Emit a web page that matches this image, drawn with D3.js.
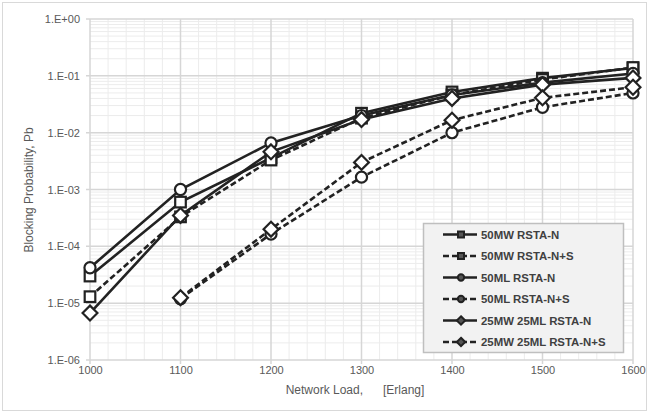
<!DOCTYPE html>
<html>
<head>
<meta charset="utf-8">
<script src="https://cdn.jsdelivr.net/npm/d3@7"></script>
<style>
  body { margin: 0; background: #fff; }
  svg { display: block; font-family: "Liberation Sans", Arial, sans-serif; }
</style>
</head>
<body>
<svg width="650" height="415"></svg>
<script>
// network load values on the x axis
const loads = [1000, 1100, 1200, 1300, 1400, 1500, 1600];

// blocking probability per series (null = no point)
const mw50N = [3.0e-5, 6.0e-4, 3.6e-3, 2.2e-2, 5.2e-2, 9.1e-2, 1.37e-1];
const mw50NS = [1.3e-5, 3.3e-4, 3.3e-3, 1.8e-2, 4.6e-2, 8.6e-2, 1.4e-1];
const ml50N = [4.2e-5, 1.0e-3, 6.6e-3, 2.0e-2, 4.6e-2, 7.6e-2, 1.1e-1];
const ml50NS = [null, 1.2e-5, 1.65e-4, 1.65e-3, 1.0e-2, 2.8e-2, 5.0e-2];
const mix25N = [6.7e-6, 3.5e-4, 4.6e-3, 1.7e-2, 4.0e-2, 7.0e-2, 9.2e-2];
const mix25NS = [null, 1.25e-5, 2.0e-4, 3.0e-3, 1.66e-2, 4.1e-2, 6.3e-2];

const seriesNames = [
  '50MW RSTA-N', '50MW RSTA-N+S', '50ML RSTA-N',
  '50ML RSTA-N+S', '25MW 25ML RSTA-N', '25MW 25ML RSTA-N+S'
];
const yTickLabels = ['1.E-06', '1.E-05', '1.E-04', '1.E-03', '1.E-02', '1.E-01', '1.E+00'];

const series = [
  {name: seriesNames[0], values: mw50N, shape: 'square', dashed: false},
  {name: seriesNames[1], values: mw50NS, shape: 'square', dashed: true},
  {name: seriesNames[2], values: ml50N, shape: 'circle', dashed: false},
  {name: seriesNames[3], values: ml50NS, shape: 'circle', dashed: true},
  {name: seriesNames[4], values: mix25N, shape: 'diamond', dashed: false},
  {name: seriesNames[5], values: mix25NS, shape: 'diamond', dashed: true},
];

const svg = d3.select('svg');
const pLeft = 90, pRight = 633, pTop = 19, pBottom = 360;
const ink = '#222';

const x = d3.scaleLinear().domain([1000, 1600]).range([pLeft, pRight]);
const y = d3.scaleLog().domain([1e-6, 1]).range([pBottom, pTop]);

// outer chart border
svg.append('rect')
  .attr('x', 2.5).attr('y', 2.5).attr('width', 644).attr('height', 408)
  .attr('fill', '#fff').attr('stroke', '#d9d9d9');

// minor grid
const grid = svg.append('g');
const minorX = d3.range(1000, 1601, 20).filter(v => v % 100 !== 0);
grid.selectAll('.mx').data(minorX).enter().append('line')
  .attr('x1', d => x(d)).attr('x2', d => x(d))
  .attr('y1', pTop).attr('y2', pBottom)
  .attr('stroke', '#ececec').attr('stroke-width', 1);
const minorY = [];
for (let e = -6; e < 0; e++) {
  for (let m = 2; m <= 9; m++) minorY.push(m * Math.pow(10, e));
}
grid.selectAll('.my').data(minorY).enter().append('line')
  .attr('x1', pLeft).attr('x2', pRight)
  .attr('y1', d => y(d)).attr('y2', d => y(d))
  .attr('stroke', '#ececec').attr('stroke-width', 1);

// major grid
grid.selectAll('.gx').data(loads).enter().append('line')
  .attr('x1', d => x(d)).attr('x2', d => x(d))
  .attr('y1', pTop).attr('y2', pBottom + 4)
  .attr('stroke', '#d6d6d6').attr('stroke-width', 1.5);
const majorY = d3.range(-6, 1).map(e => Math.pow(10, e));
grid.selectAll('.gy').data(majorY).enter().append('line')
  .attr('x1', pLeft - 4).attr('x2', pRight)
  .attr('y1', d => y(d)).attr('y2', d => y(d))
  .attr('stroke', '#d6d6d6').attr('stroke-width', 1.5);

// axes labels
const xAxis = d3.axisBottom(x).tickValues(loads).tickFormat(d3.format('d'))
  .tickSize(0).tickPadding(6);
const gx = svg.append('g').attr('transform', `translate(0,${pBottom})`).call(xAxis);
gx.select('.domain').remove();
gx.selectAll('text').attr('fill', '#595959').style('font-size', '11px');

const yAxis = d3.axisLeft(y).tickValues(majorY)
  .tickFormat((d, i) => yTickLabels[i]).tickSize(0).tickPadding(10);
const gy = svg.append('g').attr('transform', `translate(${pLeft},0)`).call(yAxis);
gy.select('.domain').remove();
gy.selectAll('text').attr('fill', '#595959').style('font-size', '11px');

svg.append('text')
  .attr('x', 355).attr('y', 394).attr('text-anchor', 'middle')
  .attr('fill', '#595959').style('font-size', '12px')
  .attr('xml:space', 'preserve')
  .text('Network Load,      [Erlang]');
svg.append('text')
  .attr('transform', 'translate(33,190) rotate(-90)')
  .attr('text-anchor', 'middle')
  .attr('fill', '#595959').style('font-size', '12px')
  .text('Blocking Probability, Pb');

// markers
function drawMarker(g, shape, cx, cy, s) {
  if (shape === 'square') {
    g.append('rect').attr('x', cx - s).attr('y', cy - s)
      .attr('width', 2 * s).attr('height', 2 * s);
  } else if (shape === 'circle') {
    g.append('circle').attr('cx', cx).attr('cy', cy).attr('r', s * 1.05);
  } else {
    const r = s * 1.4;
    g.append('path').attr('d', `M${cx},${cy - r}L${cx + r},${cy}L${cx},${cy + r}L${cx - r},${cy}Z`);
  }
}

const line = d3.line()
  .defined(d => d.v !== null)
  .x(d => x(d.load)).y(d => y(d.v));

series.forEach((s) => {
  const pts = loads.map((load, i) => ({load, v: s.values[i]}));
  svg.append('path')
    .datum(pts)
    .attr('d', line)
    .attr('fill', 'none')
    .attr('stroke', ink)
    .attr('stroke-width', 2.6)
    .attr('stroke-dasharray', s.dashed ? '6,3' : null);
  const mg = svg.append('g')
    .attr('fill', '#fff').attr('stroke', ink).attr('stroke-width', 2.2);
  pts.filter(p => p.v !== null).forEach((p) => {
    drawMarker(mg, s.shape, x(p.load), y(p.v), 5.3);
  });
});

// legend
const legend = svg.append('g');
legend.append('rect')
  .attr('x', 423.5).attr('y', 223.5).attr('width', 200).attr('height', 129)
  .attr('fill', '#f2f2f2').attr('stroke', '#bfbfbf').attr('stroke-width', 1.5);
series.forEach((s, i) => {
  const ly = 234.5 + i * 21.5;
  legend.append('line')
    .attr('x1', 443).attr('x2', 477).attr('y1', ly).attr('y2', ly)
    .attr('stroke', ink).attr('stroke-width', 2.6)
    .attr('stroke-dasharray', s.dashed ? '6,3' : null);
  const mg = legend.append('g')
    .attr('fill', '#555').attr('stroke', ink).attr('stroke-width', 2);
  drawMarker(mg, s.shape, 461, ly, 3);
  legend.append('text')
    .attr('x', 481).attr('y', ly + 4)
    .attr('fill', '#404040').style('font-size', '11.4px').style('font-weight', 'bold')
    .text(s.name);
});
</script>
</body>
</html>
